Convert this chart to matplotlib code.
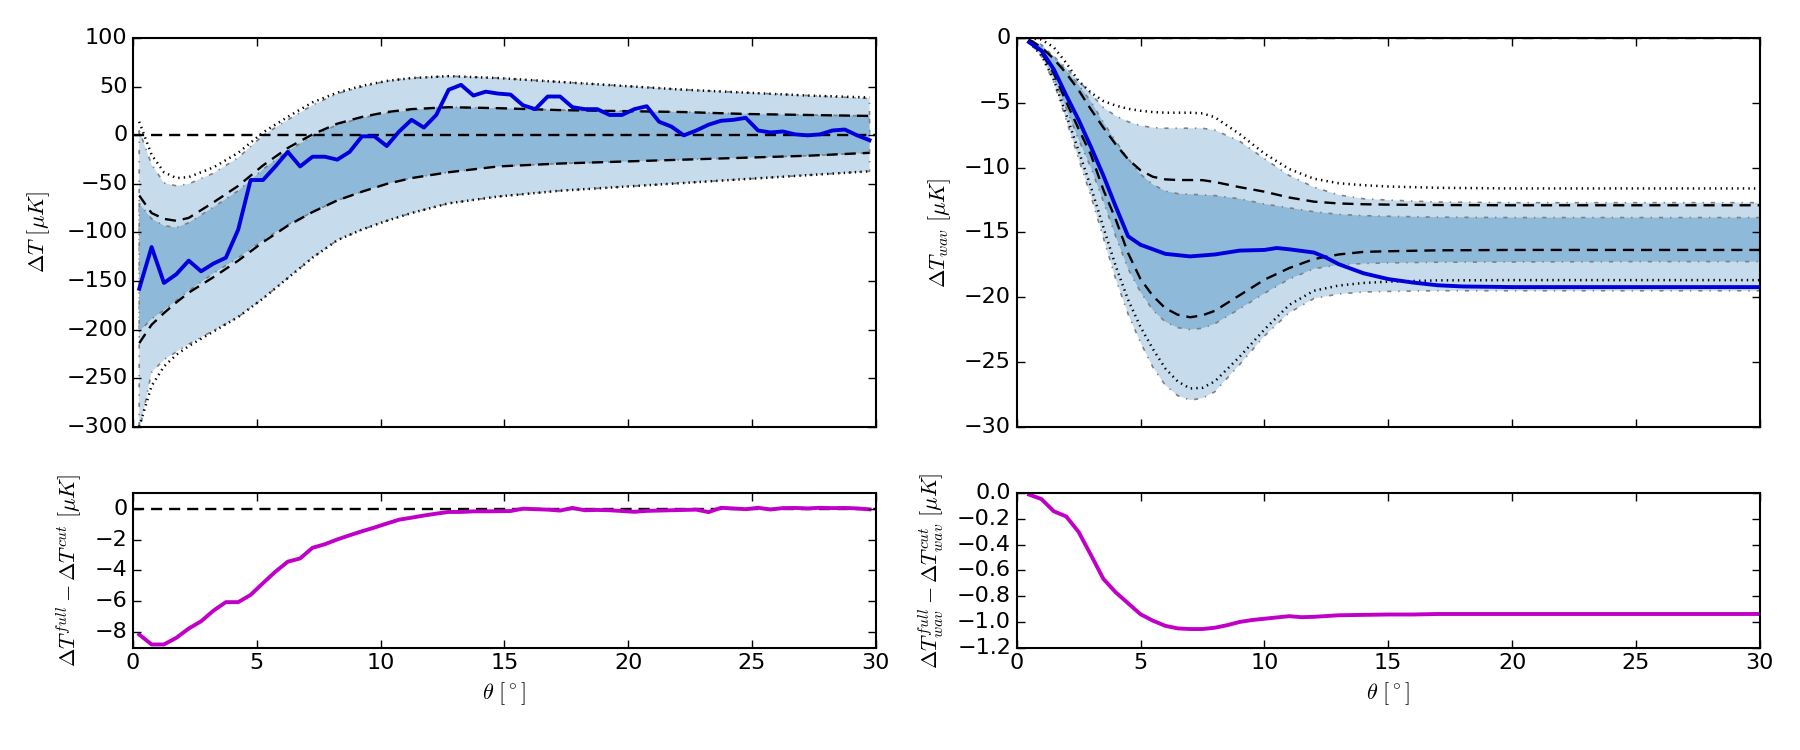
import numpy as np
import matplotlib
matplotlib.use('Agg')
import matplotlib.pyplot as plt

plt.style.use('classic')
plt.rcParams['font.family'] = ['DejaVu Sans']
plt.rcParams['mathtext.fontset'] = 'cm'
plt.rcParams['font.size'] = 16
plt.rcParams['axes.linewidth'] = 1.5
plt.rcParams['xtick.major.size'] = 6
plt.rcParams['ytick.major.size'] = 6
plt.rcParams['xtick.major.width'] = 1.0
plt.rcParams['ytick.major.width'] = 1.0

# ---- left panels: Delta T (full sky, 60 bins of 0.5 deg)
theta = np.arange(0.25, 30.0, 0.5)
dT = [-158, -115, -152, -143, -129, -140, -132, -126, -97, -46,
      -46, -32, -17, -32, -22, -22, -25, -17, -1, -1,
      -11, 4, 16, 8, 21, 47, 52, 41, 45, 43,
      42, 31, 27, 40, 40, 29, 27, 27, 21, 21,
      27, 30, 14, 9, 0, 5, 11, 15, 16, 18,
      5, 3, 4, 1, 0, 1, 5, 6, 0, -5]
dT_diff = [-8.15, -8.79, -8.79, -8.36, -7.76, -7.29, -6.6, -6.05, -6.05, -5.58,
           -4.82, -4.08, -3.43, -3.22, -2.53, -2.3, -1.99, -1.72, -1.46, -1.22,
           -0.96, -0.71, -0.58, -0.44, -0.32, -0.21, -0.21, -0.17, -0.17, -0.16,
           -0.15, 0.0, -0.03, -0.06, -0.12, 0.05, -0.1, -0.08, -0.1, -0.15,
           -0.2, -0.14, -0.12, -0.1, -0.08, -0.06, -0.22, 0.06, 0.02, -0.03,
           0.06, -0.05, 0.04, 0.05, 0.02, 0.06, 0.04, 0.05, 0.02, -0.04]

# simulation bands (left)
band_theta = [0.25, 0.75, 1.25, 1.75, 2.25, 3.25, 4.25, 5.25, 6.25, 7.25, 8.25,
              9.25, 10.25, 11.25, 12.75, 14.75, 17.25, 19.75, 22.25, 24.75, 27.25, 29.75]
outer_hi = [5, -30, -49, -52, -50, -39, -23, 0, 16, 31, 43,
            50, 56, 59, 61, 59, 55, 51, 47, 44, 41, 38]
outer_lo = [-305, -244, -231, -223, -215, -201, -187, -168, -147, -126, -108,
            -97, -88, -80, -70, -63, -57, -53, -49, -45, -41, -37]
inner_hi = [-70, -86, -93, -95, -90, -74, -57, -35, -16, -1, 11,
            18, 23, 26, 29, 28, 26, 25, 24, 22, 21, 20]
inner_lo = [-202, -189, -180, -170, -160, -142, -126, -108, -92, -79, -67,
            -58, -50, -44, -38, -32, -29, -27, -25, -23, -21, -18]
dash_hi = [-62, -80, -86, -88, -85, -69, -52, -31, -13, 1, 12,
           19, 24, 27, 29, 28, 26, 25, 24, 22, 21, 20]
dash_lo = [-214, -195, -183, -172, -162, -146, -129, -110, -93, -79, -67,
           -58, -50, -44, -38, -32, -29, -27, -25, -23, -21, -18]
dot_hi = [14, -20, -38, -44, -43, -33, -18, 3, 19, 34, 44,
          51, 56, 59, 61, 59, 55, 51, 47, 44, 41, 39]
dot_lo = [-300, -258, -238, -226, -217, -202, -187, -168, -147, -126, -108,
          -97, -88, -80, -70, -63, -57, -53, -49, -45, -41, -37]

# ---- right panels: Delta T_wav
theta_wav = [0.5, 1.0, 1.5, 2.0, 2.5, 3.0, 3.5, 4.0, 4.5, 5.0, 6.0, 7.0, 8.0, 9.0,
             10.0, 10.5, 11.0, 12.0, 12.5, 13.0, 14.0, 15.0, 16.0, 17.0, 18.0, 20.0, 25.0, 30.0]
dTw = [-0.3, -0.95, -2.4, -4.4, -6.3, -8.4, -10.6, -13.0, -15.3, -15.95, -16.65, -16.85, -16.7, -16.4,
       -16.35, -16.2, -16.3, -16.55, -16.95, -17.45, -18.15, -18.6, -18.87, -19.08, -19.17, -19.22, -19.22, -19.22]

theta_wdiff = [0.5, 1.0, 1.5, 2.0, 2.5, 3.0, 3.5, 4.0, 4.5, 5.0, 5.5, 6.0, 6.5, 7.0, 7.5, 8.0,
               8.5, 9.0, 9.5, 10.0, 11.0, 11.5, 12.0, 13.0, 14.0, 15.0, 16.0, 17.0, 20.0, 25.0, 30.0]
dTw_diff = [-0.01, -0.045, -0.14, -0.18, -0.30, -0.48, -0.665, -0.77, -0.855, -0.94, -0.99, -1.03,
            -1.05, -1.055, -1.055, -1.045, -1.025, -1.0, -0.985, -0.975, -0.955, -0.963, -0.96,
            -0.948, -0.945, -0.942, -0.942, -0.938, -0.938, -0.938, -0.938]

band_wav = [0.5, 1.0, 1.5, 2.0, 2.5, 3.0, 3.5, 4.0, 4.5, 5.0, 5.5, 6.0, 6.5, 7.0, 7.5, 8.0,
            9.0, 10.0, 11.0, 12.0, 13.0, 14.0, 15.0, 17.0, 20.0, 25.0, 30.0]
w_outer_hi = [-0.05, -0.5, -1.4, -2.3, -3.3, -4.3, -5.35, -6.0, -6.45, -6.75, -6.9, -6.95, -6.95, -6.95,
              -6.95, -7.1, -7.95, -9.3, -10.6, -11.5, -12.1, -12.4, -12.5, -12.65, -12.7, -12.7, -12.7]
w_outer_lo = [-0.35, -1.4, -3.4, -6.3, -9.3, -12.2, -15.4, -18.6, -21.3, -23.5, -25.4, -26.8, -27.6, -27.95,
              -27.8, -27.3, -25.2, -23.0, -21.2, -20.1, -19.75, -19.6, -19.55, -19.5, -19.5, -19.5, -19.5]
w_inner_hi = [-0.1, -0.6, -1.4, -2.5, -3.6, -4.9, -6.5, -7.95, -9.3, -10.5, -11.3, -11.8, -12.0, -12.05,
              -12.1, -12.15, -12.4, -12.8, -13.1, -13.4, -13.6, -13.7, -13.75, -13.82, -13.85, -13.85, -13.85]
w_inner_lo = [-0.3, -1.2, -3.0, -5.4, -7.8, -10.0, -12.6, -15.3, -17.8, -19.6, -21.0, -21.9, -22.35, -22.5,
              -22.4, -22.05, -20.9, -19.7, -18.6, -17.8, -17.5, -17.4, -17.35, -17.3, -17.28, -17.25, -17.25]
w_dash_hi = [-0.1, -0.7, -1.6, -2.7, -4.0, -5.5, -6.9, -8.2, -9.35, -10.2, -10.7, -10.9, -10.95, -10.95,
             -10.96, -11.1, -11.5, -11.85, -12.3, -12.62, -12.76, -12.82, -12.85, -12.88, -12.9, -12.9, -12.9]
w_dash_lo = [-0.3, -1.1, -2.7, -4.9, -7.0, -9.0, -11.7, -14.0, -16.6, -18.6, -19.9, -20.85, -21.35, -21.55,
             -21.4, -21.05, -19.85, -18.65, -17.75, -17.05, -16.7, -16.5, -16.45, -16.38, -16.35, -16.35, -16.35]
w_dot_hi = [0.0, -0.1, -0.7, -1.9, -3.3, -4.2, -4.85, -5.2, -5.45, -5.6, -5.7, -5.75, -5.75, -5.75,
            -5.8, -6.1, -7.4, -8.9, -10.1, -10.85, -11.2, -11.35, -11.45, -11.55, -11.6, -11.6, -11.6]
w_dot_lo = [-0.3, -1.3, -3.2, -5.9, -8.7, -11.5, -14.6, -17.6, -20.2, -22.3, -24.0, -25.5, -26.5, -27.05,
            -27.0, -26.5, -24.6, -22.5, -20.6, -19.5, -19.1, -18.9, -18.8, -18.7, -18.68, -18.68, -18.68]

light = '#c6dcec'
dark = '#8fb9d9'


def draw_bands(ax, x, o_hi, o_lo, i_hi, i_lo, d_hi, d_lo, p_hi, p_lo):
    ax.fill_between(x, o_lo, o_hi, facecolor=light, edgecolor='gray',
                    linestyle='-.', linewidth=1.2)
    ax.fill_between(x, i_lo, i_hi, facecolor=dark, edgecolor='gray',
                    linestyle='-.', linewidth=1.2)
    for y in (p_hi, p_lo):
        ax.plot(x, y, color='k', linestyle=':', linewidth=1.8)
    for y in (d_hi, d_lo):
        ax.plot(x, y, color='k', linestyle='--', dashes=(8, 5), linewidth=1.7)


fig = plt.figure(figsize=(18, 7.5), dpi=100)
fig.patch.set_facecolor('white')

ax1 = fig.add_axes([0.0739, 0.4311, 0.4126, 0.5179])
ax2 = fig.add_axes([0.5648, 0.4311, 0.4129, 0.5179])
ax3 = fig.add_axes([0.0739, 0.1364, 0.4126, 0.2059])
ax4 = fig.add_axes([0.5648, 0.1364, 0.4129, 0.2059])

# top left
draw_bands(ax1, band_theta, outer_hi, outer_lo, inner_hi, inner_lo,
           dash_hi, dash_lo, dot_hi, dot_lo)
ax1.axhline(0, color='k', linestyle='--', dashes=(8, 5), linewidth=1.7)
ax1.plot(theta, dT, color='#0000dd', linewidth=2.8)
ax1.set_xlim(0, 30)
ax1.set_ylim(-300, 100)
ax1.set_yticks(np.arange(-300, 101, 50))
ax1.set_xticks(np.arange(0, 31, 5))
ax1.set_xticklabels([])
ax1.set_ylabel(r'$\Delta T\ [\mu K]$', labelpad=10)

# top right
draw_bands(ax2, band_wav, w_outer_hi, w_outer_lo, w_inner_hi, w_inner_lo,
           w_dash_hi, w_dash_lo, w_dot_hi, w_dot_lo)
ax2.axhline(0, color='k', linestyle='--', dashes=(8, 5), linewidth=1.7)
ax2.plot(theta_wav, dTw, color='#0000dd', linewidth=2.8)
ax2.set_xlim(0, 30)
ax2.set_ylim(-30, 0)
ax2.set_yticks(np.arange(-30, 1, 5))
ax2.set_xticks(np.arange(0, 31, 5))
ax2.set_xticklabels([])
ax2.set_ylabel(r'$\Delta T_{wav}\ [\mu K]$', labelpad=8)

# bottom left
ax3.axhline(0, color='k', linestyle='--', dashes=(8, 5), linewidth=1.7)
ax3.plot(theta, dT_diff, color='#c000c8', linewidth=2.8)
ax3.set_xlim(0, 30)
ax3.set_ylim(-9, 1)
ax3.set_yticks([-8, -6, -4, -2, 0])
ax3.set_xticks(np.arange(0, 31, 5))
ax3.set_xlabel(r'$\theta\ [^\circ]$')
ax3.set_ylabel(r'$\Delta T^{full} - \Delta T^{cut}\ [\mu K]$', labelpad=8)

# bottom right
ax4.plot(theta_wdiff, dTw_diff, color='#c000c8', linewidth=2.8)
ax4.set_xlim(0, 30)
ax4.set_ylim(-1.2, 0)
ax4.set_yticks(np.arange(-1.2, 0.01, 0.2))
ax4.set_xticks(np.arange(0, 31, 5))
ax4.set_xlabel(r'$\theta\ [^\circ]$')
ax4.set_ylabel(r'$\Delta T_{wav}^{full} - \Delta T_{wav}^{cut}\ [\mu K]$', labelpad=8)

for ax in (ax1, ax2, ax3, ax4):
    ax.tick_params(direction='in', top=True, right=True, labelsize=16)

fig.savefig('out.png', dpi=100, facecolor='white')
